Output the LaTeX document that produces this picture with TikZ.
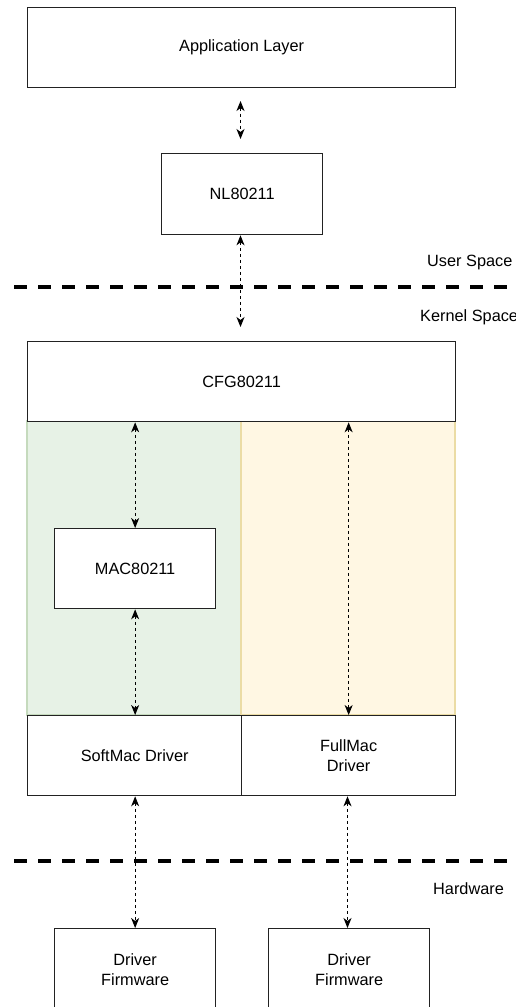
\documentclass[tikz,border=0pt]{standalone}
\usepackage{fontspec}
\setmainfont{Liberation Sans}
\usetikzlibrary{arrows.meta}
\definecolor{greenfill}{HTML}{E7F2E6}
\definecolor{greenline}{HTML}{C5DABD}
\definecolor{yellowfill}{HTML}{FFF7E3}
\definecolor{yellowline}{HTML}{EBDCA5}
\definecolor{boxline}{HTML}{222222}
\tikzset{
  every node/.style={font=\fontsize{16.3}{20}\selectfont},
  box/.style={draw=boxline, line width=1.3pt, fill=white, inner sep=0pt,
    anchor=north west, align=center},
  conn/.style={line width=1pt, dash pattern=on 3pt off 3pt,
    {Stealth[length=10pt,width=8pt,inset=3pt]}-{Stealth[length=10pt,width=8pt,inset=3pt]}},
  sep/.style={line width=4pt, dash pattern=on 13pt off 11pt},
  lbl/.style={anchor=west, inner sep=0pt},
}
\begin{document}
\begin{tikzpicture}[x=1pt,y=-1pt]
\useasboundingbox (0,0) rectangle (515,1007);
% regions
\draw[greenline, line width=1.3pt, fill=greenfill] (27,421) rectangle (241,715);
\draw[yellowline, line width=1.3pt, fill=yellowfill] (241,421) rectangle (455,715);
% boxes
\node[box, minimum width=428pt, minimum height=80pt] (app) at (27,7) {Application Layer};
\node[box, minimum width=161pt, minimum height=81pt] (nl) at (161,153) {NL80211};
\node[box, minimum width=428pt, minimum height=80pt] (cfg) at (27,341) {CFG80211};
\node[box, minimum width=161pt, minimum height=80pt] (mac) at (54,528) {MAC80211};
\node[box, minimum width=214pt, minimum height=80pt] (soft) at (27,715) {SoftMac Driver};
\node[box, minimum width=214pt, minimum height=80pt] (full) at (241,715) {FullMac\\Driver};
\node[box, minimum width=161pt, minimum height=82pt] (fw1) at (54,928) {Driver\\Firmware};
\node[box, minimum width=161pt, minimum height=82pt] (fw2) at (268,928) {Driver\\Firmware};
% separators
\draw[sep] (14,287) -- (515,287);
\draw[sep] (14,861) -- (515,861);
% labels
\node[lbl] (us) at (427,262) {User Space};
\node[lbl] (ks) at (420,317) {Kernel Space};
\node[lbl] (hw) at (433,889) {Hardware};
% connectors
\coordinate (a1) at (240.5,101);
\coordinate (a2) at (240.5,139);
\coordinate (k1) at (240.5,327);
\draw[conn] (a1) -- (a2);
\draw[conn] (nl.south -| k1) -- (k1);
\draw[conn] (cfg.south -| mac.north) -- (mac.north);
\draw[conn] (mac.south) -- (soft.north -| mac.south);
\draw[conn] (cfg.south -| full.north) -- (full.north);
\draw[conn] (soft.south -| fw1.north) -- (fw1.north);
\draw[conn] (full.south -| 347.5,0) -- (fw2.north -| 347.5,0);
\end{tikzpicture}
\end{document}
